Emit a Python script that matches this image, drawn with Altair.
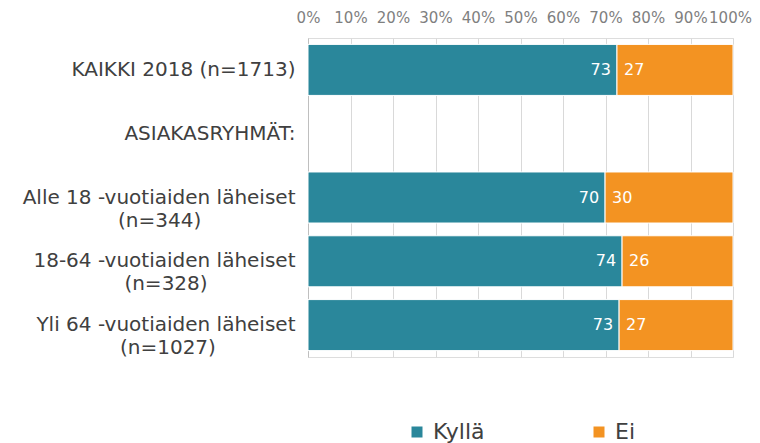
import altair as alt
import pandas as pd

# --- data ---
categories = [
    "KAIKKI 2018 (n=1713)",
    "ASIAKASRYHMÄT:",
    "Alle 18 -vuotiaiden läheiset|(n=344)",
    "18-64 -vuotiaiden läheiset|(n=328)",
    "Yli 64 -vuotiaiden läheiset|(n=1027)",
]
series = ["Kyllä", "Ei"]
kylla = [72.7, None, 69.9, 73.9, 73.2]
ei = [27.3, None, 30.1, 26.1, 26.8]
x_ticks = [0, 10, 20, 30, 40, 50, 60, 70, 80, 90, 100]
colors = ["#2A879B", "#F39322"]

# trailing blank glyphs keep the second label line roughly centred under the first
BLANK = "\u2800"
NBSP = "\u00a0"
line2_pad = [(0, 0), (0, 0), (1, 6), (0, 6), (1, 5)]  # (no-break spaces, blank glyphs)

def display_label(c, p):
    if "|" in c:
        a, b = c.split("|")
        return a + "|" + b + NBSP * p[0] + BLANK * p[1]
    return c

labels = [display_label(c, p) for c, p in zip(categories, line2_pad)]

rows = []
for lab, k, e in zip(labels, kylla, ei):
    if k is None:
        continue
    rows.append({"cat": lab, "series": series[0], "value": k, "ord": 0})
    rows.append({"cat": lab, "series": series[1], "value": e, "ord": 1})
long_df = pd.DataFrame(rows)

wide_df = pd.DataFrame(
    [{"cat": lab, "kylla": k, "ei": e} for lab, k, e in zip(labels, kylla, ei) if k is not None]
)

FONT = "DejaVu Sans"
y_scale = alt.Scale(domain=labels, paddingInner=0.2, paddingOuter=0.1)

y_enc = alt.Y(
    "cat:N",
    sort=labels,
    scale=y_scale,
    axis=alt.Axis(
        title=None,
        labelExpr="split(datum.label, '|')",
        labelFont=FONT,
        labelFontSize=20,
        labelColor="#404040",
        labelPadding=13,
        labelLimit=400,
        ticks=False,
        domain=True,
        domainColor="#bfbfbf",
        grid=False,
        labelLineHeight=23,
    ),
)

x_scale = alt.Scale(domain=[0, 100], nice=False)

bars = alt.Chart(long_df).mark_bar(stroke="white", strokeWidth=1).encode(
    x=alt.X(
        "value:Q",
        stack="zero",
        scale=x_scale,
        axis=alt.Axis(
            orient="top",
            title=None,
            values=x_ticks,
            labelExpr="datum.value + '%'",
            labelFont=FONT,
            labelFontSize=15,
            labelColor="#7f7f7f",
            labelPadding=13,
            labelOffset={"expr": "datum.value == 100 ? -3 : 0"},
            ticks=False,
            domain=False,
            grid=True,
            gridColor="#d9d9d9",
            labelFlush=False,
        ),
    ),
    y=y_enc,
    color=alt.Color(
        "series:N",
        scale=alt.Scale(domain=series, range=colors),
        legend=alt.Legend(
            title=None,
            orient="none",
            legendX=98,
            legendY=383,
            direction="horizontal",
            symbolType="square",
            symbolSize=121,
            symbolStrokeWidth=0,
            labelFont=FONT,
            labelFontSize=22,
            labelColor="#404040",
            labelOffset=5,
            columnPadding=103,
        ),
    ),
    order=alt.Order("ord:Q"),
)

txt_k = alt.Chart(wide_df).mark_text(
    align="right", baseline="middle", dx=-6, color="white", font=FONT, fontSize=16
).encode(
    x=alt.X("kylla:Q", scale=x_scale),
    y=alt.Y("cat:N", sort=labels, scale=y_scale),
    text=alt.Text("kylla:Q", format=".0f"),
)

txt_e = alt.Chart(wide_df).mark_text(
    align="left", baseline="middle", dx=7, color="white", font=FONT, fontSize=16
).encode(
    x=alt.X("kylla:Q", scale=x_scale),
    y=alt.Y("cat:N", sort=labels, scale=y_scale),
    text=alt.Text("ei:Q", format=".0f"),
)

chart = (
    alt.layer(bars, txt_k, txt_e)
    .properties(
        width=425,
        height=319,
        autosize=alt.AutoSizeParams(type="none"),
        padding={"left": 300, "top": 30, "right": 19, "bottom": 90},
    )
    .configure_view(stroke=None)
    .configure(background="white")
)

chart.save("out.html", embed_options={"renderer": "svg", "actions": False})
